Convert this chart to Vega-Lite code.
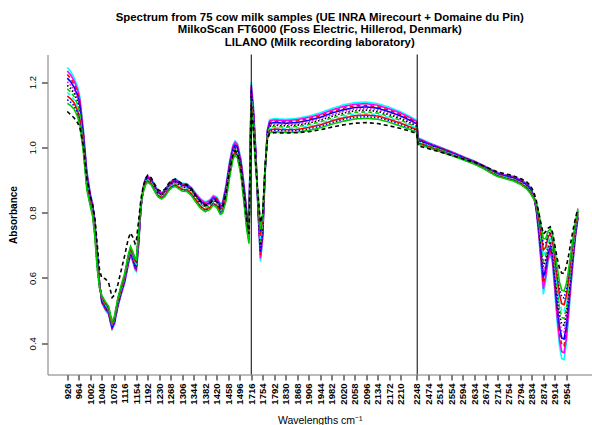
{
  "$schema": "https://vega.github.io/schema/vega-lite/v6.json",
  "width": 544.5,
  "height": 320,
  "autosize": "none",
  "padding": {"left": 47.5, "top": 54.5, "right": 0, "bottom": 50.5},
  "background": "white",
  "config": {"view": {"stroke": null}, "font": "Liberation Sans"},
  "title": {
    "text": ["Spectrum from 75 cow milk samples (UE INRA Mirecourt + Domaine du Pin)", "MilkoScan FT6000 (Foss Electric, Hillerod, Denmark)", "LILANO (Milk recording laboratory)"],
    "fontSize": 11.4,
    "fontWeight": "bold",
    "font": "Liberation Sans",
    "lineHeight": 12.4,
    "anchor": "middle",
    "baseline": "bottom",
    "offset": 4,
    "dy": 9,
    "color": "black"
  },
  "layer": [
    {
      "data": {"values": [
        {"w":0,"a":1.245,"b":1.234,"c":1.223,"d":1.212,"e":1.201,"f":1.19,"g":1.179,"h":1.168,"i":1.157,"j":1.146,"k":1.135,"z":1.11},
        {"w":3,"a":1.232,"b":1.222,"c":1.211,"d":1.201,"e":1.19,"f":1.18,"g":1.17,"h":1.159,"i":1.149,"j":1.138,"k":1.128,"z":1.1},
        {"w":6,"a":1.213,"b":1.203,"c":1.194,"d":1.184,"e":1.175,"f":1.165,"g":1.155,"h":1.146,"i":1.136,"j":1.127,"k":1.117,"z":1.09},
        {"w":9,"a":1.186,"b":1.177,"c":1.168,"d":1.158,"e":1.149,"f":1.14,"g":1.131,"h":1.122,"i":1.112,"j":1.103,"k":1.094,"z":1.075},
        {"w":11,"a":1.154,"b":1.145,"c":1.136,"d":1.128,"e":1.119,"f":1.11,"g":1.101,"h":1.092,"i":1.084,"j":1.075,"k":1.066,"z":1.06},
        {"w":14,"a":1.055,"b":1.048,"c":1.041,"d":1.034,"e":1.027,"f":1.02,"g":1.013,"h":1.006,"i":0.999,"j":0.992,"k":0.985,"z":1.005},
        {"w":17,"a":0.93,"b":0.924,"c":0.918,"d":0.912,"e":0.906,"f":0.9,"g":0.894,"h":0.888,"i":0.882,"j":0.876,"k":0.87,"z":0.905},
        {"w":20,"a":0.86,"b":0.856,"c":0.852,"d":0.848,"e":0.844,"f":0.84,"g":0.836,"h":0.832,"i":0.828,"j":0.824,"k":0.82,"z":0.85},
        {"w":22,"a":0.83,"b":0.826,"c":0.822,"d":0.818,"e":0.814,"f":0.81,"g":0.806,"h":0.802,"i":0.798,"j":0.794,"k":0.79,"z":0.825},
        {"w":24,"a":0.775,"b":0.77,"c":0.765,"d":0.76,"e":0.755,"f":0.75,"g":0.745,"h":0.74,"i":0.735,"j":0.73,"k":0.725,"z":0.785},
        {"w":26,"a":0.69,"b":0.684,"c":0.678,"d":0.672,"e":0.666,"f":0.66,"g":0.654,"h":0.648,"i":0.642,"j":0.636,"k":0.63,"z":0.705},
        {"w":28,"a":0.59,"b":0.588,"c":0.586,"d":0.584,"e":0.582,"f":0.58,"g":0.578,"h":0.576,"i":0.574,"j":0.572,"k":0.57,"z":0.625},
        {"w":30,"a":0.523,"b":0.525,"c":0.528,"d":0.53,"e":0.533,"f":0.535,"g":0.537,"h":0.54,"i":0.542,"j":0.545,"k":0.547,"z":0.6},
        {"w":33,"a":0.502,"b":0.505,"c":0.507,"d":0.51,"e":0.512,"f":0.515,"g":0.518,"h":0.52,"i":0.523,"j":0.525,"k":0.528,"z":0.598},
        {"w":36,"a":0.487,"b":0.49,"c":0.492,"d":0.495,"e":0.497,"f":0.5,"g":0.503,"h":0.505,"i":0.508,"j":0.51,"k":0.513,"z":0.585},
        {"w":38,"a":0.456,"b":0.458,"c":0.461,"d":0.463,"e":0.466,"f":0.468,"g":0.47,"h":0.473,"i":0.475,"j":0.478,"k":0.48,"z":0.555},
        {"w":39,"a":0.443,"b":0.445,"c":0.448,"d":0.45,"e":0.453,"f":0.455,"g":0.457,"h":0.46,"i":0.462,"j":0.465,"k":0.467,"z":0.54},
        {"w":41,"a":0.458,"b":0.46,"c":0.463,"d":0.465,"e":0.468,"f":0.47,"g":0.472,"h":0.475,"i":0.477,"j":0.48,"k":0.482,"z":0.548},
        {"w":44,"a":0.511,"b":0.514,"c":0.517,"d":0.519,"e":0.522,"f":0.525,"g":0.528,"h":0.531,"i":0.533,"j":0.536,"k":0.539,"z":0.58},
        {"w":47,"a":0.55,"b":0.553,"c":0.556,"d":0.559,"e":0.562,"f":0.565,"g":0.568,"h":0.571,"i":0.574,"j":0.577,"k":0.58,"z":0.625},
        {"w":50,"a":0.585,"b":0.588,"c":0.591,"d":0.594,"e":0.597,"f":0.6,"g":0.603,"h":0.606,"i":0.609,"j":0.612,"k":0.615,"z":0.67},
        {"w":53,"a":0.639,"b":0.642,"c":0.645,"d":0.649,"e":0.652,"f":0.655,"g":0.658,"h":0.661,"i":0.665,"j":0.668,"k":0.671,"z":0.72},
        {"w":55,"a":0.669,"b":0.672,"c":0.675,"d":0.677,"e":0.68,"f":0.683,"g":0.686,"h":0.689,"i":0.691,"j":0.694,"k":0.697,"z":0.738},
        {"w":57,"a":0.649,"b":0.652,"c":0.655,"d":0.659,"e":0.662,"f":0.665,"g":0.668,"h":0.671,"i":0.675,"j":0.678,"k":0.681,"z":0.725},
        {"w":59,"a":0.624,"b":0.628,"c":0.631,"d":0.635,"e":0.638,"f":0.642,"g":0.646,"h":0.649,"i":0.653,"j":0.656,"k":0.66,"z":0.705},
        {"w":60,"a":0.62,"b":0.624,"c":0.627,"d":0.631,"e":0.634,"f":0.638,"g":0.642,"h":0.645,"i":0.649,"j":0.652,"k":0.656,"z":0.712},
        {"w":62,"a":0.695,"b":0.7,"c":0.705,"d":0.71,"e":0.715,"f":0.72,"g":0.725,"h":0.73,"i":0.735,"j":0.74,"k":0.745,"z":0.775},
        {"w":64,"a":0.81,"b":0.812,"c":0.814,"d":0.816,"e":0.818,"f":0.82,"g":0.822,"h":0.824,"i":0.826,"j":0.828,"k":0.83,"z":0.84},
        {"w":66,"a":0.878,"b":0.876,"c":0.875,"d":0.873,"e":0.872,"f":0.87,"g":0.868,"h":0.867,"i":0.865,"j":0.864,"k":0.862,"z":0.88},
        {"w":68,"a":0.905,"b":0.903,"c":0.901,"d":0.899,"e":0.897,"f":0.895,"g":0.893,"h":0.891,"i":0.889,"j":0.887,"k":0.885,"z":0.905},
        {"w":70,"a":0.913,"b":0.911,"c":0.909,"d":0.907,"e":0.905,"f":0.903,"g":0.901,"h":0.899,"i":0.897,"j":0.895,"k":0.893,"z":0.915},
        {"w":73,"a":0.905,"b":0.903,"c":0.901,"d":0.899,"e":0.897,"f":0.895,"g":0.893,"h":0.891,"i":0.889,"j":0.887,"k":0.885,"z":0.907},
        {"w":76,"a":0.885,"b":0.883,"c":0.881,"d":0.879,"e":0.877,"f":0.875,"g":0.873,"h":0.871,"i":0.869,"j":0.867,"k":0.865,"z":0.887},
        {"w":79,"a":0.868,"b":0.866,"c":0.864,"d":0.862,"e":0.86,"f":0.858,"g":0.856,"h":0.854,"i":0.852,"j":0.85,"k":0.848,"z":0.87},
        {"w":82,"a":0.862,"b":0.86,"c":0.858,"d":0.856,"e":0.854,"f":0.852,"g":0.85,"h":0.848,"i":0.846,"j":0.844,"k":0.842,"z":0.865},
        {"w":85,"a":0.87,"b":0.868,"c":0.866,"d":0.864,"e":0.862,"f":0.86,"g":0.858,"h":0.856,"i":0.854,"j":0.852,"k":0.85,"z":0.872},
        {"w":88,"a":0.888,"b":0.886,"c":0.884,"d":0.881,"e":0.879,"f":0.877,"g":0.875,"h":0.873,"i":0.87,"j":0.868,"k":0.866,"z":0.889},
        {"w":91,"a":0.899,"b":0.897,"c":0.895,"d":0.892,"e":0.89,"f":0.888,"g":0.886,"h":0.884,"i":0.881,"j":0.879,"k":0.877,"z":0.9},
        {"w":94,"a":0.904,"b":0.902,"c":0.899,"d":0.897,"e":0.894,"f":0.892,"g":0.89,"h":0.887,"i":0.885,"j":0.882,"k":0.88,"z":0.903},
        {"w":97,"a":0.897,"b":0.895,"c":0.892,"d":0.89,"e":0.887,"f":0.885,"g":0.883,"h":0.88,"i":0.878,"j":0.875,"k":0.873,"z":0.895},
        {"w":100,"a":0.89,"b":0.888,"c":0.885,"d":0.883,"e":0.88,"f":0.878,"g":0.876,"h":0.873,"i":0.871,"j":0.868,"k":0.866,"z":0.888},
        {"w":104,"a":0.889,"b":0.887,"c":0.884,"d":0.882,"e":0.879,"f":0.877,"g":0.875,"h":0.872,"i":0.87,"j":0.867,"k":0.865,"z":0.886},
        {"w":108,"a":0.878,"b":0.875,"c":0.873,"d":0.87,"e":0.868,"f":0.865,"g":0.862,"h":0.86,"i":0.857,"j":0.855,"k":0.852,"z":0.873},
        {"w":112,"a":0.859,"b":0.856,"c":0.853,"d":0.851,"e":0.848,"f":0.845,"g":0.842,"h":0.839,"i":0.837,"j":0.834,"k":0.831,"z":0.852},
        {"w":116,"a":0.843,"b":0.84,"c":0.837,"d":0.834,"e":0.831,"f":0.828,"g":0.825,"h":0.822,"i":0.819,"j":0.816,"k":0.813,"z":0.834},
        {"w":120,"a":0.833,"b":0.83,"c":0.827,"d":0.824,"e":0.821,"f":0.818,"g":0.815,"h":0.812,"i":0.809,"j":0.806,"k":0.803,"z":0.822},
        {"w":124,"a":0.84,"b":0.837,"c":0.834,"d":0.831,"e":0.828,"f":0.825,"g":0.822,"h":0.819,"i":0.816,"j":0.813,"k":0.81,"z":0.828},
        {"w":127,"a":0.853,"b":0.85,"c":0.847,"d":0.844,"e":0.841,"f":0.838,"g":0.835,"h":0.832,"i":0.829,"j":0.826,"k":0.823,"z":0.84},
        {"w":130,"a":0.848,"b":0.845,"c":0.842,"d":0.838,"e":0.835,"f":0.832,"g":0.829,"h":0.826,"i":0.822,"j":0.819,"k":0.816,"z":0.833},
        {"w":133,"a":0.829,"b":0.826,"c":0.822,"d":0.819,"e":0.815,"f":0.812,"g":0.809,"h":0.805,"i":0.802,"j":0.798,"k":0.795,"z":0.812},
        {"w":135,"a":0.832,"b":0.829,"c":0.825,"d":0.822,"e":0.818,"f":0.815,"g":0.812,"h":0.808,"i":0.805,"j":0.801,"k":0.798,"z":0.815},
        {"w":138,"a":0.885,"b":0.88,"c":0.875,"d":0.87,"e":0.865,"f":0.86,"g":0.855,"h":0.85,"i":0.845,"j":0.84,"k":0.835,"z":0.858},
        {"w":141,"a":0.955,"b":0.95,"c":0.945,"d":0.94,"e":0.935,"f":0.93,"g":0.925,"h":0.92,"i":0.915,"j":0.91,"k":0.905,"z":0.925},
        {"w":144,"a":1.007,"b":1.003,"c":0.998,"d":0.994,"e":0.989,"f":0.985,"g":0.981,"h":0.976,"i":0.972,"j":0.967,"k":0.963,"z":0.978},
        {"w":146,"a":1.02,"b":1.016,"c":1.011,"d":1.007,"e":1.002,"f":0.998,"g":0.994,"h":0.989,"i":0.985,"j":0.98,"k":0.976,"z":0.99},
        {"w":148,"a":1.012,"b":1.008,"c":1.003,"d":0.999,"e":0.994,"f":0.99,"g":0.986,"h":0.981,"i":0.977,"j":0.972,"k":0.968,"z":0.982},
        {"w":151,"a":0.965,"b":0.96,"c":0.955,"d":0.95,"e":0.945,"f":0.94,"g":0.935,"h":0.93,"i":0.925,"j":0.92,"k":0.915,"z":0.933},
        {"w":154,"a":0.88,"b":0.874,"c":0.868,"d":0.862,"e":0.856,"f":0.85,"g":0.844,"h":0.838,"i":0.832,"j":0.826,"k":0.82,"z":0.845},
        {"w":156,"a":0.81,"b":0.804,"c":0.798,"d":0.792,"e":0.786,"f":0.78,"g":0.774,"h":0.768,"i":0.762,"j":0.756,"k":0.75,"z":0.778},
        {"w":158,"a":0.765,"b":0.759,"c":0.753,"d":0.747,"e":0.741,"f":0.735,"g":0.729,"h":0.723,"i":0.717,"j":0.711,"k":0.705,"z":0.735},
        {"w":160,"a":1.2,"b":1.192,"c":1.184,"d":1.176,"e":1.168,"f":1.16,"g":1.152,"h":1.144,"i":1.136,"j":1.128,"k":1.12,"z":1.12},
        {"w":162,"a":1.12,"b":1.112,"c":1.104,"d":1.096,"e":1.088,"f":1.08,"g":1.072,"h":1.064,"i":1.056,"j":1.048,"k":1.04,"z":1.05},
        {"w":164,"a":0.99,"b":0.984,"c":0.978,"d":0.972,"e":0.966,"f":0.96,"g":0.954,"h":0.948,"i":0.942,"j":0.936,"k":0.93,"z":0.945},
        {"w":166,"a":0.79,"b":0.796,"c":0.802,"d":0.808,"e":0.814,"f":0.82,"g":0.826,"h":0.832,"i":0.838,"j":0.844,"k":0.85,"z":0.85},
        {"w":168,"a":0.65,"b":0.66,"c":0.67,"d":0.68,"e":0.69,"f":0.7,"g":0.71,"h":0.72,"i":0.73,"j":0.74,"k":0.75,"z":0.77},
        {"w":170,"a":0.72,"b":0.728,"c":0.736,"d":0.744,"e":0.752,"f":0.76,"g":0.768,"h":0.776,"i":0.784,"j":0.792,"k":0.8,"z":0.8},
        {"w":172,"a":0.92,"b":0.922,"c":0.924,"d":0.926,"e":0.928,"f":0.93,"g":0.932,"h":0.934,"i":0.936,"j":0.938,"k":0.94,"z":0.94},
        {"w":174,"a":1.055,"b":1.052,"c":1.049,"d":1.046,"e":1.043,"f":1.04,"g":1.037,"h":1.034,"i":1.031,"j":1.028,"k":1.025,"z":1.025},
        {"w":176,"a":1.085,"b":1.081,"c":1.077,"d":1.073,"e":1.069,"f":1.065,"g":1.061,"h":1.057,"i":1.053,"j":1.049,"k":1.045,"z":1.043},
        {"w":180,"a":1.088,"b":1.084,"c":1.08,"d":1.076,"e":1.072,"f":1.068,"g":1.064,"h":1.06,"i":1.056,"j":1.052,"k":1.048,"z":1.045},
        {"w":190,"a":1.086,"b":1.082,"c":1.078,"d":1.074,"e":1.07,"f":1.066,"g":1.062,"h":1.058,"i":1.054,"j":1.05,"k":1.046,"z":1.044},
        {"w":200,"a":1.089,"b":1.085,"c":1.081,"d":1.076,"e":1.072,"f":1.068,"g":1.064,"h":1.06,"i":1.055,"j":1.051,"k":1.047,"z":1.045},
        {"w":210,"a":1.096,"b":1.092,"c":1.087,"d":1.083,"e":1.078,"f":1.074,"g":1.07,"h":1.065,"i":1.061,"j":1.056,"k":1.052,"z":1.048},
        {"w":220,"a":1.106,"b":1.101,"c":1.097,"d":1.092,"e":1.088,"f":1.083,"g":1.078,"h":1.074,"i":1.069,"j":1.065,"k":1.06,"z":1.054},
        {"w":230,"a":1.119,"b":1.114,"c":1.109,"d":1.105,"e":1.1,"f":1.095,"g":1.09,"h":1.085,"i":1.081,"j":1.076,"k":1.071,"z":1.062},
        {"w":240,"a":1.13,"b":1.125,"c":1.12,"d":1.115,"e":1.11,"f":1.105,"g":1.1,"h":1.095,"i":1.09,"j":1.085,"k":1.08,"z":1.069},
        {"w":250,"a":1.137,"b":1.132,"c":1.127,"d":1.122,"e":1.117,"f":1.112,"g":1.107,"h":1.102,"i":1.097,"j":1.092,"k":1.087,"z":1.074},
        {"w":260,"a":1.139,"b":1.134,"c":1.129,"d":1.124,"e":1.119,"f":1.114,"g":1.109,"h":1.104,"i":1.099,"j":1.094,"k":1.089,"z":1.076},
        {"w":270,"a":1.134,"b":1.129,"c":1.124,"d":1.12,"e":1.115,"f":1.11,"g":1.105,"h":1.1,"i":1.096,"j":1.091,"k":1.086,"z":1.073},
        {"w":280,"a":1.123,"b":1.118,"c":1.114,"d":1.109,"e":1.105,"f":1.1,"g":1.095,"h":1.091,"i":1.086,"j":1.082,"k":1.077,"z":1.066},
        {"w":290,"a":1.109,"b":1.105,"c":1.1,"d":1.096,"e":1.091,"f":1.087,"g":1.083,"h":1.078,"i":1.074,"j":1.069,"k":1.065,"z":1.058},
        {"w":298,"a":1.095,"b":1.091,"c":1.087,"d":1.083,"e":1.079,"f":1.075,"g":1.071,"h":1.067,"i":1.063,"j":1.059,"k":1.055,"z":1.05},
        {"w":304,"a":1.083,"b":1.079,"c":1.076,"d":1.072,"e":1.069,"f":1.065,"g":1.061,"h":1.058,"i":1.054,"j":1.051,"k":1.047,"z":1.042},
        {"w":305,"a":1.03,"b":1.028,"c":1.026,"d":1.024,"e":1.022,"f":1.02,"g":1.018,"h":1.016,"i":1.014,"j":1.012,"k":1.01,"z":1.005},
        {"w":315,"a":1.014,"b":1.012,"c":1.011,"d":1.009,"e":1.008,"f":1.006,"g":1.004,"h":1.003,"i":1.001,"j":1.0,"k":0.998,"z":0.995},
        {"w":325,"a":1.0,"b":0.999,"c":0.997,"d":0.996,"e":0.994,"f":0.993,"g":0.992,"h":0.99,"i":0.989,"j":0.987,"k":0.986,"z":0.985},
        {"w":335,"a":0.986,"b":0.985,"c":0.984,"d":0.982,"e":0.981,"f":0.98,"g":0.979,"h":0.978,"i":0.976,"j":0.975,"k":0.974,"z":0.975},
        {"w":345,"a":0.971,"b":0.97,"c":0.969,"d":0.968,"e":0.967,"f":0.966,"g":0.965,"h":0.964,"i":0.963,"j":0.962,"k":0.961,"z":0.964},
        {"w":355,"a":0.957,"b":0.956,"c":0.955,"d":0.954,"e":0.953,"f":0.952,"g":0.951,"h":0.95,"i":0.949,"j":0.948,"k":0.947,"z":0.953},
        {"w":362,"a":0.945,"b":0.944,"c":0.943,"d":0.942,"e":0.941,"f":0.94,"g":0.939,"h":0.938,"i":0.937,"j":0.936,"k":0.935,"z":0.943},
        {"w":368,"a":0.934,"b":0.933,"c":0.932,"d":0.93,"e":0.929,"f":0.928,"g":0.927,"h":0.926,"i":0.924,"j":0.923,"k":0.922,"z":0.934},
        {"w":374,"a":0.923,"b":0.922,"c":0.921,"d":0.919,"e":0.918,"f":0.917,"g":0.916,"h":0.915,"i":0.913,"j":0.912,"k":0.911,"z":0.925},
        {"w":380,"a":0.917,"b":0.916,"c":0.915,"d":0.913,"e":0.912,"f":0.911,"g":0.91,"h":0.909,"i":0.907,"j":0.906,"k":0.905,"z":0.92},
        {"w":388,"a":0.911,"b":0.91,"c":0.908,"d":0.907,"e":0.905,"f":0.904,"g":0.903,"h":0.901,"i":0.9,"j":0.898,"k":0.897,"z":0.913},
        {"w":395,"a":0.901,"b":0.899,"c":0.898,"d":0.896,"e":0.895,"f":0.893,"g":0.891,"h":0.89,"i":0.888,"j":0.887,"k":0.885,"z":0.903},
        {"w":400,"a":0.889,"b":0.887,"c":0.885,"d":0.884,"e":0.882,"f":0.88,"g":0.878,"h":0.876,"i":0.875,"j":0.873,"k":0.871,"z":0.893},
        {"w":403,"a":0.877,"b":0.875,"c":0.873,"d":0.871,"e":0.869,"f":0.867,"g":0.865,"h":0.863,"i":0.861,"j":0.859,"k":0.857,"z":0.882},
        {"w":406,"a":0.85,"b":0.849,"c":0.848,"d":0.847,"e":0.846,"f":0.845,"g":0.844,"h":0.843,"i":0.842,"j":0.841,"k":0.84,"z":0.86},
        {"w":408,"a":0.8,"b":0.803,"c":0.806,"d":0.809,"e":0.812,"f":0.815,"g":0.818,"h":0.821,"i":0.824,"j":0.827,"k":0.83,"z":0.835},
        {"w":410,"a":0.73,"b":0.737,"c":0.744,"d":0.751,"e":0.758,"f":0.765,"g":0.772,"h":0.779,"i":0.786,"j":0.793,"k":0.8,"z":0.8},
        {"w":412,"a":0.64,"b":0.652,"c":0.664,"d":0.676,"e":0.688,"f":0.7,"g":0.712,"h":0.724,"i":0.736,"j":0.748,"k":0.76,"z":0.765},
        {"w":414,"a":0.55,"b":0.567,"c":0.584,"d":0.601,"e":0.618,"f":0.635,"g":0.652,"h":0.669,"i":0.686,"j":0.703,"k":0.72,"z":0.735},
        {"w":416,"a":0.59,"b":0.603,"c":0.616,"d":0.629,"e":0.642,"f":0.655,"g":0.668,"h":0.681,"i":0.694,"j":0.707,"k":0.72,"z":0.742},
        {"w":418,"a":0.647,"b":0.657,"c":0.666,"d":0.676,"e":0.685,"f":0.695,"g":0.705,"h":0.714,"i":0.724,"j":0.733,"k":0.743,"z":0.752},
        {"w":420,"a":0.674,"b":0.682,"c":0.689,"d":0.697,"e":0.704,"f":0.712,"g":0.72,"h":0.727,"i":0.735,"j":0.742,"k":0.75,"z":0.757},
        {"w":422,"a":0.643,"b":0.652,"c":0.661,"d":0.67,"e":0.679,"f":0.688,"g":0.697,"h":0.706,"i":0.715,"j":0.724,"k":0.733,"z":0.74},
        {"w":424,"a":0.555,"b":0.568,"c":0.581,"d":0.594,"e":0.607,"f":0.62,"g":0.633,"h":0.646,"i":0.659,"j":0.672,"k":0.685,"z":0.7},
        {"w":426,"a":0.465,"b":0.482,"c":0.499,"d":0.516,"e":0.533,"f":0.55,"g":0.567,"h":0.584,"i":0.601,"j":0.618,"k":0.635,"z":0.66},
        {"w":428,"a":0.392,"b":0.412,"c":0.431,"d":0.451,"e":0.47,"f":0.49,"g":0.51,"h":0.529,"i":0.549,"j":0.568,"k":0.588,"z":0.63},
        {"w":430,"a":0.353,"b":0.374,"c":0.395,"d":0.416,"e":0.437,"f":0.458,"g":0.479,"h":0.5,"i":0.521,"j":0.542,"k":0.563,"z":0.615},
        {"w":432,"a":0.35,"b":0.371,"c":0.392,"d":0.413,"e":0.434,"f":0.455,"g":0.476,"h":0.497,"i":0.518,"j":0.539,"k":0.56,"z":0.614},
        {"w":434,"a":0.398,"b":0.416,"c":0.435,"d":0.453,"e":0.472,"f":0.49,"g":0.508,"h":0.527,"i":0.545,"j":0.564,"k":0.582,"z":0.635},
        {"w":436,"a":0.483,"b":0.497,"c":0.512,"d":0.526,"e":0.541,"f":0.555,"g":0.569,"h":0.584,"i":0.598,"j":0.613,"k":0.627,"z":0.67},
        {"w":438,"a":0.573,"b":0.583,"c":0.594,"d":0.604,"e":0.615,"f":0.625,"g":0.635,"h":0.646,"i":0.656,"j":0.667,"k":0.677,"z":0.712},
        {"w":440,"a":0.654,"b":0.661,"c":0.668,"d":0.676,"e":0.683,"f":0.69,"g":0.697,"h":0.704,"i":0.712,"j":0.719,"k":0.726,"z":0.75},
        {"w":442,"a":0.726,"b":0.731,"c":0.736,"d":0.74,"e":0.745,"f":0.75,"g":0.755,"h":0.76,"i":0.764,"j":0.769,"k":0.774,"z":0.785},
        {"w":444,"a":0.78,"b":0.783,"c":0.786,"d":0.789,"e":0.792,"f":0.795,"g":0.798,"h":0.801,"i":0.804,"j":0.807,"k":0.81,"z":0.812}
      ]},
      "transform": [{"fold": ["a","b","c","d","e","f","g","h","i","j","k","z"], "as": ["s","v"]}],
      "mark": {"type": "line", "strokeWidth": 1.6, "clip": true},
      "encoding": {
        "x": {
          "field": "w", "type": "quantitative",
          "scale": {"domain": [-17.2, 456.3], "nice": false, "zero": false},
          "axis": {
            "values": [0,10,20,30,40,50,60,70,80,90,100,110,120,130,140,150,160,170,180,190,200,210,220,230,240,250,260,270,280,290,304,314,324,334,344,354,364,374,384,394,404,414,424,434],
            "tickCount": 200,
            "labelExpr": "['926','964','1002','1040','1078','1116','1154','1192','1230','1268','1306','1344','1382','1420','1458','1496','1716','1754','1792','1830','1868','1906','1944','1982','2020','2058','2096','2134','2172','2210','2248','2474','2514','2554','2594','2634','2674','2714','2754','2794','2834','2874','2914','2954'][indexof([0,10,20,30,40,50,60,70,80,90,100,110,120,130,140,150,160,170,180,190,200,210,220,230,240,250,260,270,280,290,304,314,324,334,344,354,364,374,384,394,404,414,424,434], datum.value)]",
            "labelAngle": 270, "labelAlign": "right", "labelBaseline": "middle",
            "labelFontSize": 9.5, "labelFontWeight": "bold", "labelColor": "black",
            "labelPadding": 3, "labelOverlap": false, "labelFlush": false,
            "tickSize": 5.5, "tickColor": "black", "domainColor": "#7a7a7a", "grid": false,
            "title": "Wavelengths cm⁻¹", "titleFontSize": 10.5, "titleFontWeight": "normal", "titleColor": "black",
            "titleY": 48.5, "titleBaseline": "alphabetic"
          }
        },
        "y": {
          "field": "v", "type": "quantitative",
          "scale": {"domain": [0.3044, 1.2845], "nice": false, "zero": false},
          "axis": {
            "values": [0.4, 0.6, 0.8, 1.0, 1.2], "format": ".1f",
            "labelAngle": 270, "labelAlign": "center", "labelBaseline": "bottom",
            "labelPadding": 4.5, "labelFontSize": 9.5, "labelColor": "black", "labelOverlap": false,
            "tickSize": 6, "tickColor": "black", "domainColor": "#7a7a7a", "grid": false,
            "title": "Absorbance", "titleFontSize": 10, "titleFontWeight": "bold", "titleColor": "black",
            "titleAngle": 270, "titleX": -34.2, "titleY": 160, "titleAlign": "center", "titleBaseline": "middle"
          }
        },
        "color": {
          "field": "s", "type": "nominal", "legend": null,
          "scale": {"domain": ["a","b","c","d","e","f","g","h","i","j","k","z"],
                    "range": ["#00FFFF","#FF00FF","#FF0000","#0000FF","#FF00FF","#000000","#00CD00","#00FFFF","#FF0000","#0000FF","#00CD00","#000000"]}
        },
        "strokeDash": {
          "field": "s", "type": "nominal", "legend": null,
          "scale": {"domain": ["a","b","c","d","e","f","g","h","i","j","k","z"],
                    "range": [[1,0],[1,0],[4,3],[1,0],[1.5,2],[1.5,2],[4,3],[4,3],[1,0],[1.5,2],[1,0],[4,3]]}
        }
      }
    },
    {
      "data": {"values": [{"w": 160}, {"w": 304.3}]},
      "mark": {"type": "rule", "color": "black", "strokeWidth": 1},
      "encoding": {"x": {"field": "w", "type": "quantitative", "scale": {"domain": [-17.2, 456.3], "nice": false, "zero": false}}}
    },
    {
      "mark": {"type": "rule", "color": "#7a7a7a", "strokeWidth": 1},
      "encoding": {"y": {"datum": 1.2845, "type": "quantitative"}}
    }
  ]
}
